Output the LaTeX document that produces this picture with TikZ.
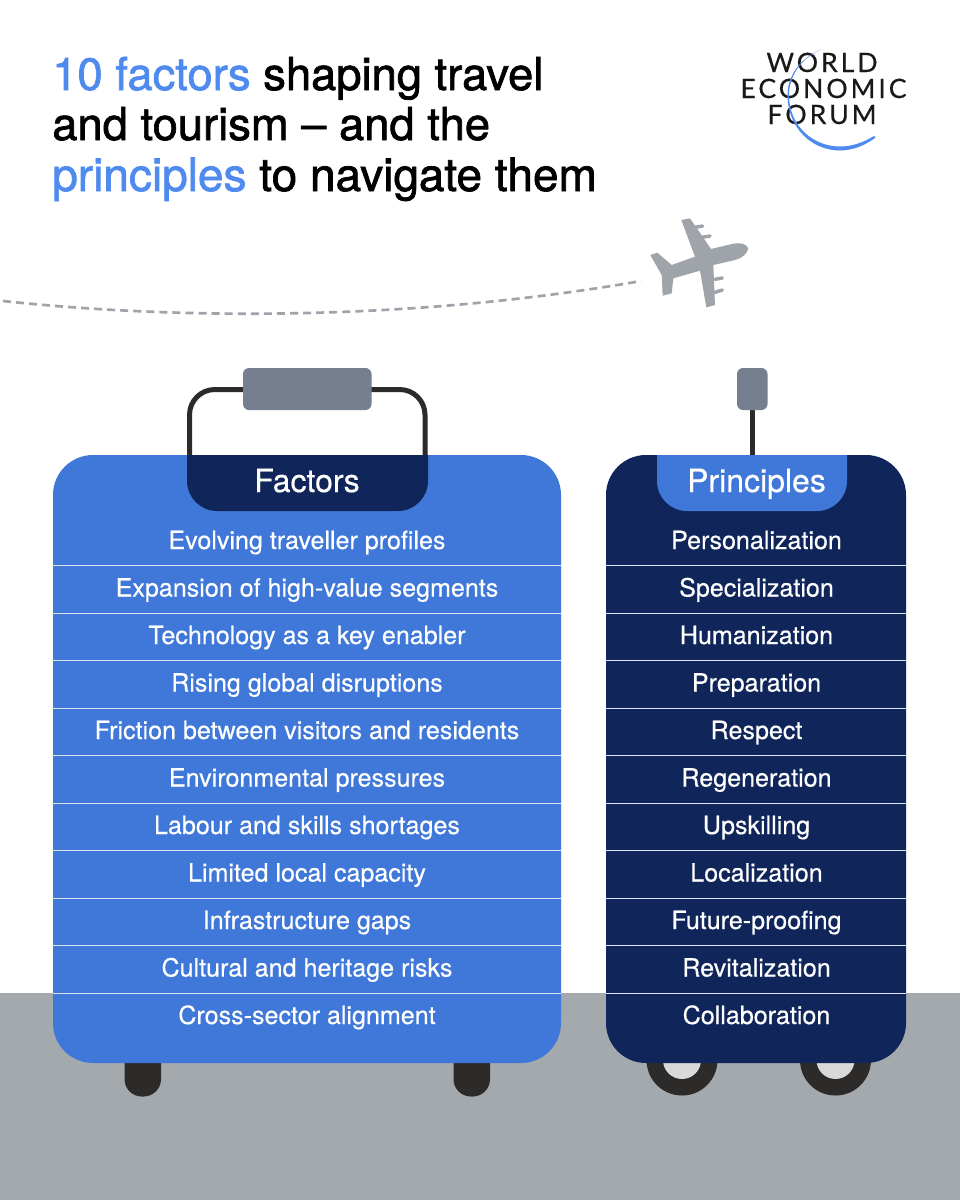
\documentclass[tikz,border=0pt]{standalone}
\usepackage{fontspec}
\setmainfont{TeX Gyre Heros}
\newfontfamily\titlefont[FakeBold=1.5]{TeX Gyre Heros}
\newfontfamily\bodyfont[FakeBold=0.4]{TeX Gyre Heros}
\newfontfamily\logofont[LetterSpace=11,FakeBold=0.4]{Lato}
\definecolor{blueA}{HTML}{3F78D8}
\definecolor{navyA}{HTML}{10265A}
\definecolor{titleblue}{HTML}{4F8BEF}
\definecolor{groundc}{HTML}{A3A9AD}
\definecolor{gripc}{HTML}{767F8F}
\definecolor{darkc}{HTML}{2C2B2A}
\definecolor{planec}{HTML}{9EA4A9}
\definecolor{hubc}{HTML}{D9D9D9}
\tikzset{
  titletext/.style={anchor=base west,inner sep=0pt,font=\titlefont\fontsize{34}{34}\selectfont,text=black},
  rowtext/.style={anchor=base,inner sep=0pt,text=white,font=\bodyfont\fontsize{18.8}{18.8}\selectfont},
  headtext/.style={anchor=base,inner sep=0pt,text=white,font=\bodyfont\fontsize{24}{24}\selectfont},
  logotext/.style={anchor=base,inner sep=0pt,text=black!90,font=\logofont\fontsize{20}{20}\selectfont},
  rowline/.style={draw=white!80!blueA,line width=0.75pt},
  grip/.style={fill=gripc,rounded corners=4.5pt},
  bar/.style={draw=darkc,line width=3.75pt},
  engine/.style={draw=planec,line width=2.6pt,line cap=round}
}
\begin{document}
\begin{tikzpicture}[x=0.75pt,y=-0.75pt]
\useasboundingbox (0,0) rectangle (960,1200);
\fill[white] (0,0) rectangle (960,1200);
% ground
\fill[groundc] (0,993) rectangle (960,1200);
% title
\node[titletext] (t1) at (52,90) {\textcolor{titleblue}{10 factors} shaping travel};
\node[titletext] (t2) at (52,140) {and tourism – and the};
\node[titletext,font=\titlefont\fontsize{34.5}{34.5}\selectfont] (t3) at (52,191) {\textcolor{titleblue}{principles} to navigate them};
% logo
\node[logotext] (l1) at (822,72) {WORLD};
\node[logotext] (l2) at (823.5,98) {ECONOMIC};
\node[logotext] (l3) at (822,124) {FORUM};
\fill[titleblue] (822,49) .. controls (800,58) and (787.5,76) .. (787.5,95)
  .. controls (787.5,128) and (812,150.5) .. (840,150.5)
  .. controls (853,150.5) and (866,145) .. (875.5,137.5) -- (874,136)
  .. controls (864,142) and (853,146.5) .. (840,146.5)
  .. controls (813,146.5) and (789,126) .. (789,95)
  .. controls (789,76) and (801,58) .. (822,49) -- cycle;
% flight path
\coordinate (pathstart) at (3,301);
\coordinate (pathend) at (641,281);
\draw[planec,line width=2pt,dash pattern=on 6pt off 3.8pt]
  (pathstart) .. controls (200,322) and (430,318) .. (pathend);
% plane
\begin{scope}[shift={(640,30)},x=0.25pt,y=-0.25pt]
\draw[engine] (165,592) -- (188,588);
\draw[engine] (185,622) -- (210,618);
\draw[engine] (225,748) -- (247,744);
\draw[engine] (225,787) -- (247,780);
\fill[planec] (325,655) .. controls (318,640) and (300,638) .. (280,641)
  -- (213,657) -- (150,565) -- (124,570) -- (165,680) -- (95,705) -- (52,668)
  -- (31,675) -- (65,735) -- (68,797) -- (95,790) -- (100,745) -- (180,722)
  -- (199,832) -- (225,825) -- (220,705) -- (285,690)
  .. controls (305,685) and (322,672) .. (325,655) -- cycle;
\end{scope}
% legs and wheels
\fill[darkc,rounded corners=13pt] (124.5,1030) rectangle (161,1096.5);
\fill[darkc,rounded corners=13pt] (453.5,1030) rectangle (490,1096.5);
\fill[darkc] (682,1060) circle[radius=35.5];
\fill[hubc] (682,1060) circle[radius=19];
\fill[darkc] (835.5,1060) circle[radius=35.5];
\fill[hubc] (835.5,1060) circle[radius=19];
% handles
\draw[bar,rounded corners=19pt] (189.5,470) -- (189.5,389.5) -- (425,389.5) -- (425,470);
\fill[grip] (243,368) rectangle (371.5,410);
\draw[bar] (752,405) -- (752,470);
\fill[grip] (737,368) rectangle (767.5,410);
% cases
\fill[blueA,rounded corners=30pt] (53,455) rectangle (561,1063);
\fill[navyA,rounded corners=30pt] (606,455) rectangle (906,1063);
% tabs
\fill[navyA] (187,455) -- (187,481) .. controls (187,497.5) and (200.5,511) .. (217,511)
  -- (398,511) .. controls (414.5,511) and (428,497.5) .. (428,481) -- (428,455) -- cycle;
\fill[blueA] (657,455) -- (657,481) .. controls (657,497.5) and (670.5,511) .. (687,511)
  -- (817,511) .. controls (833.5,511) and (847,497.5) .. (847,481) -- (847,455) -- cycle;
\node[headtext] (fhead) at (307,492) {Factors};
\node[headtext] (phead) at (756.5,492) {Principles};
% separator lines
\foreach \y in {565.5,613,660.5,708,755.5,803,850.5,898,945.5,993}{
  \draw[rowline] (53,\y) -- (561,\y);
  \draw[rowline] (606,\y) -- (906,\y);
}
% rows
\foreach \i/\f/\p in {
 0/Evolving traveller profiles/Personalization,
 1/Expansion of high-value segments/Specialization,
 2/Technology as a key enabler/Humanization,
 3/Rising global disruptions/Preparation,
 4/Friction between visitors and residents/Respect,
 5/Environmental pressures/Regeneration,
 6/Labour and skills shortages/Upskilling,
 7/Limited local capacity/Localization,
 8/Infrastructure gaps/Future-proofing,
 9/Cultural and heritage risks/Revitalization,
 10/Cross-sector alignment/Collaboration}{
  \node[rowtext] (f\i) at (307,549+47.5*\i) {\f};
  \node[rowtext] (p\i) at (756.5,549+47.5*\i) {\p};
}
\end{tikzpicture}
\end{document}
